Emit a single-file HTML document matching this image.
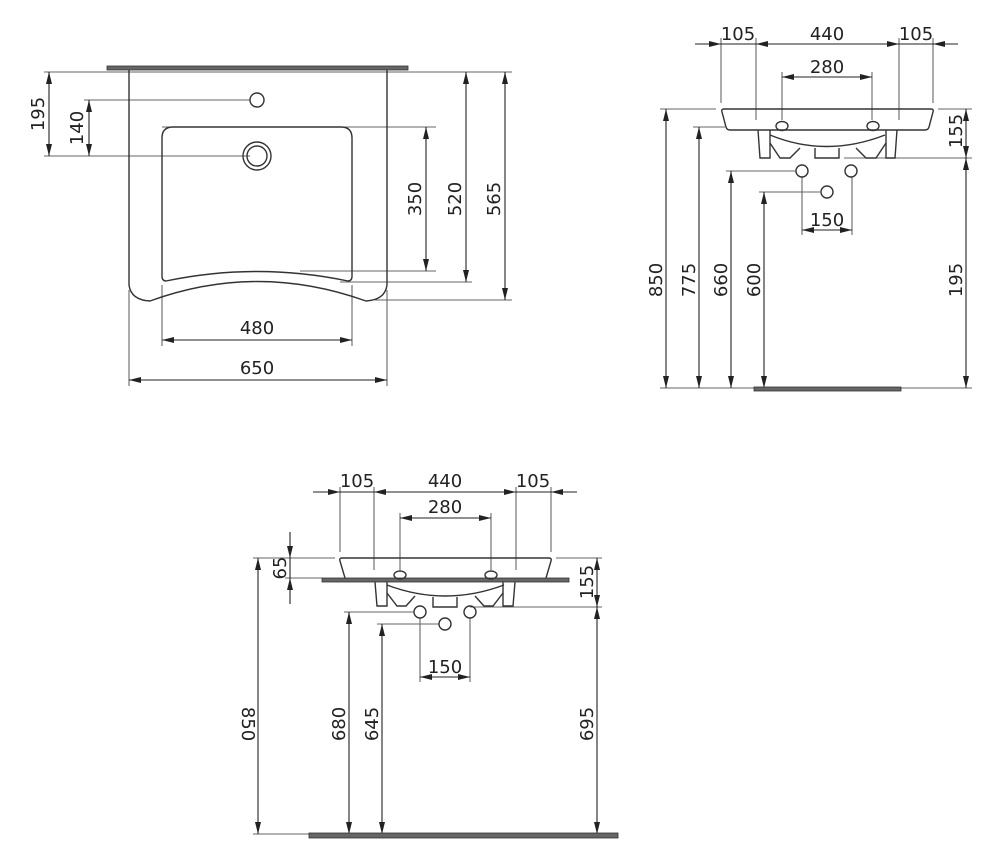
<!DOCTYPE html>
<html><head><meta charset="utf-8"><style>
html,body{margin:0;padding:0;background:#fff;width:1000px;height:868px;overflow:hidden}
svg text{font-family:"DejaVu Sans","Liberation Sans",sans-serif;font-size:18px;fill:#222}
</style></head><body>
<svg width="1000" height="868" viewBox="0 0 1000 868" xmlns="http://www.w3.org/2000/svg">
<defs>
<marker id="a" viewBox="0 0 12 6" refX="12" refY="3" markerWidth="12" markerHeight="6" markerUnits="userSpaceOnUse" orient="auto-start-reverse"><path d="M0,0L12,3L0,6z" fill="#222"/></marker>
</defs>
<g stroke="#666" stroke-width="1.1" fill="none">
<line x1="44" y1="72" x2="512" y2="72"/>
<line x1="44" y1="156" x2="250" y2="156"/>
<line x1="84" y1="100" x2="250" y2="100"/>
<line x1="162" y1="127" x2="436" y2="127"/>
<line x1="300" y1="271" x2="436" y2="271"/>
<line x1="340" y1="282" x2="472" y2="282"/>
<line x1="375" y1="300" x2="512" y2="300"/>
<line x1="162" y1="285" x2="162" y2="346"/>
<line x1="352" y1="285" x2="352" y2="346"/>
<line x1="129" y1="290" x2="129" y2="386"/>
<line x1="387" y1="290" x2="387" y2="386"/>
</g>
<g stroke="#222" stroke-width="1.1" fill="none" marker-start="url(#a)" marker-end="url(#a)">
<line x1="49" y1="72" x2="49" y2="156"/>
<line x1="89" y1="100" x2="89" y2="156"/>
<line x1="426" y1="127" x2="426" y2="271"/>
<line x1="466" y1="72" x2="466" y2="282"/>
<line x1="505" y1="72" x2="505" y2="300"/>
<line x1="162" y1="340" x2="352" y2="340"/>
<line x1="129" y1="380" x2="387" y2="380"/>
</g>
<rect x="107" y="66" width="301" height="4" fill="#666" stroke="#333" stroke-width="0.8"/>
<g stroke="#333" stroke-width="1.4" fill="none">
<path d="M129,70 L129,285 Q131,300 150,301 Q257,262 366,301 Q385,300 387,285 L387,70"/>
<path d="M166,281 Q162,281 162,276 L162,138 Q162,127 173,127 L341,127 Q352,127 352,138 L352,276 Q352,281 348,281 Q257,262 166,281 Z"/>
<circle cx="257" cy="100" r="7"/>
<circle cx="257" cy="156" r="14"/>
<circle cx="257" cy="156" r="10"/>
</g>
<g>
<text transform="translate(44,114) rotate(-90)" text-anchor="middle">195</text>
<text transform="translate(83,128) rotate(-90)" text-anchor="middle">140</text>
<text transform="translate(421,199) rotate(-90)" text-anchor="middle">350</text>
<text transform="translate(461,199) rotate(-90)" text-anchor="middle">520</text>
<text transform="translate(500,199) rotate(-90)" text-anchor="middle">565</text>
<text x="257" y="334" text-anchor="middle">480</text>
<text x="257" y="374" text-anchor="middle">650</text>
</g>

<!-- VIEW 2 -->
<g stroke="#666" stroke-width="1.1" fill="none">
<line x1="721" y1="38" x2="721" y2="103"/>
<line x1="756" y1="38" x2="756" y2="120"/>
<line x1="899" y1="38" x2="899" y2="120"/>
<line x1="933" y1="38" x2="933" y2="103"/>
<line x1="782" y1="72" x2="782" y2="120"/>
<line x1="872" y1="72" x2="872" y2="120"/>
<line x1="660" y1="109" x2="716" y2="109"/>
<line x1="938" y1="109" x2="972" y2="109"/>
<line x1="693" y1="127" x2="725" y2="127"/>
<line x1="844" y1="158" x2="972" y2="158"/>
<line x1="726" y1="171" x2="796" y2="171"/>
<line x1="759" y1="192" x2="820" y2="192"/>
<line x1="802" y1="177" x2="802" y2="235"/>
<line x1="852" y1="177" x2="852" y2="235"/>
<line x1="660" y1="388" x2="972" y2="388"/>
</g>
<g stroke="#222" stroke-width="1.1" fill="none">
<line x1="695" y1="44" x2="958" y2="44"/>
<line x1="695" y1="44" x2="721" y2="44" marker-end="url(#a)"/>
<line x1="780" y1="44" x2="756" y2="44" marker-end="url(#a)"/>
<line x1="875" y1="44" x2="899" y2="44" marker-end="url(#a)"/>
<line x1="958" y1="44" x2="933" y2="44" marker-end="url(#a)"/>
<line x1="782" y1="77" x2="872" y2="77" marker-start="url(#a)" marker-end="url(#a)"/>
<line x1="802" y1="230" x2="852" y2="230" marker-start="url(#a)" marker-end="url(#a)"/>
<line x1="666" y1="109" x2="666" y2="388" marker-start="url(#a)" marker-end="url(#a)"/>
<line x1="699" y1="127" x2="699" y2="388" marker-start="url(#a)" marker-end="url(#a)"/>
<line x1="731" y1="171" x2="731" y2="388" marker-start="url(#a)" marker-end="url(#a)"/>
<line x1="764" y1="192" x2="764" y2="388" marker-start="url(#a)" marker-end="url(#a)"/>
<line x1="966" y1="109" x2="966" y2="158" marker-start="url(#a)" marker-end="url(#a)"/>
<line x1="966" y1="158" x2="966" y2="388" marker-start="url(#a)" marker-end="url(#a)"/>
</g>
<rect x="754" y="387" width="147" height="4" fill="#666" stroke="#333" stroke-width="0.8"/>
<g stroke="#333" stroke-width="1.4" fill="none">
<path d="M724,109 L931,109 Q934,109 933,112 L929,127 Q928,130 925,130 L730,130 Q727,130 726,127 L722,112 Q721,109 724,109 Z"/>
<path d="M758,130 L760,158 L770,158 L770,130"/>
<path d="M770,143 L780,158 L790,158 L800,148"/>
<path d="M770,135 Q826,158 885,135"/>
<path d="M897,130 L895,158 L886,158 L886,130"/>
<path d="M886,143 L876,158 L866,158 L856,148"/>
<path d="M815,148 L815,158 L839,158 L839,148"/>
<ellipse cx="782" cy="126" rx="6" ry="4.5"/>
<ellipse cx="873" cy="126" rx="6" ry="4.5"/>
<circle cx="802" cy="171" r="6"/>
<circle cx="851" cy="171" r="6"/>
<circle cx="827" cy="192" r="6"/>
</g>
<g>
<text x="738" y="40" text-anchor="middle">105</text>
<text x="827" y="40" text-anchor="middle">440</text>
<text x="916" y="40" text-anchor="middle">105</text>
<text x="827" y="73" text-anchor="middle">280</text>
<text x="827" y="226" text-anchor="middle">150</text>
<text transform="translate(662,280) rotate(-90)" text-anchor="middle">850</text>
<text transform="translate(695,280) rotate(-90)" text-anchor="middle">775</text>
<text transform="translate(727,280) rotate(-90)" text-anchor="middle">660</text>
<text transform="translate(760,280) rotate(-90)" text-anchor="middle">600</text>
<text transform="translate(962,131) rotate(-90)" text-anchor="middle">155</text>
<text transform="translate(962,280) rotate(-90)" text-anchor="middle">195</text>
</g>

<!-- VIEW 3 -->
<g stroke="#666" stroke-width="1.1" fill="none">
<line x1="340" y1="487" x2="340" y2="552"/>
<line x1="374" y1="487" x2="374" y2="570"/>
<line x1="516" y1="487" x2="516" y2="570"/>
<line x1="551" y1="487" x2="551" y2="552"/>
<line x1="400" y1="513" x2="400" y2="570"/>
<line x1="491" y1="513" x2="491" y2="570"/>
<line x1="253" y1="558" x2="335" y2="558"/>
<line x1="556" y1="558" x2="602" y2="558"/>
<line x1="285" y1="578" x2="322" y2="578"/>
<line x1="470" y1="607" x2="602" y2="607"/>
<line x1="344" y1="612" x2="414" y2="612"/>
<line x1="377" y1="624" x2="439" y2="624"/>
<line x1="420" y1="618" x2="420" y2="682"/>
<line x1="470" y1="618" x2="470" y2="682"/>
<line x1="253" y1="834" x2="309" y2="834"/>
</g>
<g stroke="#222" stroke-width="1.1" fill="none">
<line x1="313" y1="492" x2="577" y2="492"/>
<line x1="313" y1="492" x2="340" y2="492" marker-end="url(#a)"/>
<line x1="398" y1="492" x2="374" y2="492" marker-end="url(#a)"/>
<line x1="492" y1="492" x2="516" y2="492" marker-end="url(#a)"/>
<line x1="577" y1="492" x2="551" y2="492" marker-end="url(#a)"/>
<line x1="400" y1="518" x2="491" y2="518" marker-start="url(#a)" marker-end="url(#a)"/>
<line x1="420" y1="677" x2="470" y2="677" marker-start="url(#a)" marker-end="url(#a)"/>
<line x1="290" y1="532" x2="290" y2="558" marker-end="url(#a)"/>
<line x1="290" y1="558" x2="290" y2="578"/>
<line x1="290" y1="604" x2="290" y2="578" marker-end="url(#a)"/>
<line x1="258" y1="558" x2="258" y2="834" marker-start="url(#a)" marker-end="url(#a)"/>
<line x1="349" y1="612" x2="349" y2="834" marker-start="url(#a)" marker-end="url(#a)"/>
<line x1="382" y1="624" x2="382" y2="834" marker-start="url(#a)" marker-end="url(#a)"/>
<line x1="597" y1="558" x2="597" y2="607" marker-start="url(#a)" marker-end="url(#a)"/>
<line x1="597" y1="607" x2="597" y2="834" marker-start="url(#a)" marker-end="url(#a)"/>
</g>
<rect x="322" y="578" width="247" height="4" fill="#666" stroke="#333" stroke-width="0.8"/>
<rect x="309" y="833" width="309" height="5" fill="#666" stroke="#333" stroke-width="0.8"/>
<g stroke="#333" stroke-width="1.4" fill="none">
<path d="M342,558 L549,558 Q552,558 551,561 L546,578 M345,578 L340,561 Q339,558 342,558"/>
<path d="M375,582 L377,606 L387,606 L387,582"/>
<path d="M387,593 L397,606 L406,606 L415,596"/>
<path d="M387,585 Q445,607 504,585"/>
<path d="M515,582 L513,606 L503,606 L503,582"/>
<path d="M503,593 L493,606 L484,606 L475,596"/>
<path d="M433,597 L433,607 L457,607 L457,597"/>
<ellipse cx="400" cy="575" rx="6" ry="4"/>
<ellipse cx="491" cy="575" rx="6" ry="4"/>
<circle cx="420" cy="612" r="6"/>
<circle cx="470" cy="612" r="6"/>
<circle cx="445" cy="624" r="6"/>
</g>
<g>
<text x="357" y="487" text-anchor="middle">105</text>
<text x="445" y="487" text-anchor="middle">440</text>
<text x="533" y="487" text-anchor="middle">105</text>
<text x="445" y="513" text-anchor="middle">280</text>
<text x="445" y="673" text-anchor="middle">150</text>
<text transform="translate(286,568) rotate(-90)" text-anchor="middle">65</text>
<text transform="translate(242,724) rotate(90)" text-anchor="middle">850</text>
<text transform="translate(345,724) rotate(-90)" text-anchor="middle">680</text>
<text transform="translate(378,724) rotate(-90)" text-anchor="middle">645</text>
<text transform="translate(593,724) rotate(-90)" text-anchor="middle">695</text>
<text transform="translate(593,582) rotate(-90)" text-anchor="middle">155</text>
</g>
</svg>
</body></html>
